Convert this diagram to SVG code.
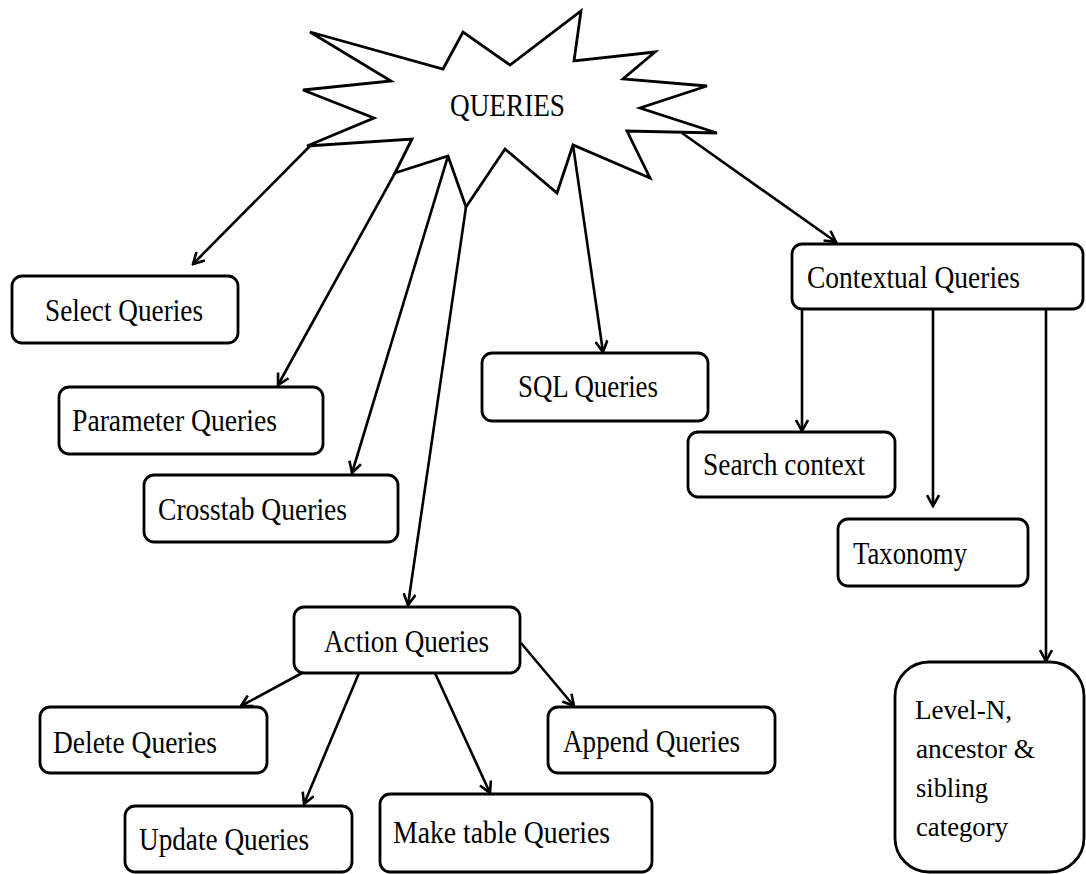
<svg xmlns="http://www.w3.org/2000/svg" width="1086" height="874" viewBox="0 0 1086 874">
  <style>
    .box { fill: #ffffff; stroke: #000000; stroke-width: 2.8; }
    .lbl { font-family: "Liberation Serif", "Times New Roman", serif; font-size: 32px; fill: #000000; }
    .small { font-size: 28px; }
    .edge { stroke: #000000; stroke-width: 2.6; fill: none; marker-end: url(#arrow); }
  </style>
  <defs>
    <marker id="arrow" markerUnits="userSpaceOnUse" viewBox="0 0 14 14" markerWidth="14" markerHeight="14" refX="12" refY="7" orient="auto">
      <path d="M1,1 L12,7 L1,13" fill="none" stroke="#000000" stroke-width="2.6"/>
    </marker>
  </defs>
  <rect width="1086" height="874" fill="#ffffff"/>

  <!-- connectors -->
  <g id="connectors">
    <line class="edge" x1="310" y1="146" x2="193" y2="264"/>
    <line class="edge" x1="395" y1="173" x2="278" y2="385"/>
    <line class="edge" x1="448" y1="156" x2="352" y2="473"/>
    <line class="edge" x1="466" y1="207" x2="408" y2="605"/>
    <line class="edge" x1="573" y1="145" x2="603" y2="352"/>
    <line class="edge" x1="682" y1="133" x2="836" y2="242"/>
    <line class="edge" x1="302" y1="673" x2="241" y2="706"/>
    <line class="edge" x1="359" y1="673" x2="304" y2="804"/>
    <line class="edge" x1="435" y1="673" x2="490" y2="793"/>
    <line class="edge" x1="521" y1="643" x2="574" y2="706"/>
    <line class="edge" x1="802" y1="309" x2="802" y2="431"/>
    <line class="edge" x1="933" y1="309" x2="933" y2="506"/>
    <line class="edge" x1="1046" y1="309" x2="1046" y2="661"/>
  </g>

  <!-- central starburst -->
  <g id="queries">
    <polygon class="box" stroke-linejoin="miter" points="310,32 443,69 463,32 510,65 581,11 574,61 655,52 623,79 707,86 640,108 717,133 627,131 650,178 573,145 557,193 505,149 466,207 448,156 395,173 412,139 307,146 374,118 303,90 391,81"/>
    <text class="lbl" x="450" y="116" font-size="28" textLength="115" lengthAdjust="spacingAndGlyphs">QUERIES</text>
  </g>

  <g id="select">
    <rect class="box" x="12" y="276" width="226" height="67" rx="10"/>
    <text class="lbl" x="45" y="321" textLength="158" lengthAdjust="spacingAndGlyphs">Select Queries</text>
  </g>

  <g id="parameter">
    <rect class="box" x="59" y="387" width="264" height="67" rx="10"/>
    <text class="lbl" x="72" y="431" textLength="205" lengthAdjust="spacingAndGlyphs">Parameter Queries</text>
  </g>

  <g id="crosstab">
    <rect class="box" x="144" y="475" width="254" height="67" rx="10"/>
    <text class="lbl" x="158" y="520" textLength="189" lengthAdjust="spacingAndGlyphs">Crosstab Queries</text>
  </g>

  <g id="sql">
    <rect class="box" x="482" y="353" width="226" height="68" rx="10"/>
    <text class="lbl" x="518" y="397" textLength="140" lengthAdjust="spacingAndGlyphs">SQL Queries</text>
  </g>

  <g id="contextual">
    <rect class="box" x="792" y="244" width="291" height="65" rx="10"/>
    <text class="lbl" x="807" y="288" textLength="213" lengthAdjust="spacingAndGlyphs">Contextual Queries</text>
  </g>

  <g id="search">
    <rect class="box" x="688" y="432" width="207" height="65" rx="10"/>
    <text class="lbl" x="703" y="475" textLength="162" lengthAdjust="spacingAndGlyphs">Search context</text>
  </g>

  <g id="taxonomy">
    <rect class="box" x="838" y="519" width="190" height="67" rx="10"/>
    <text class="lbl" x="853" y="564" textLength="114" lengthAdjust="spacingAndGlyphs">Taxonomy</text>
  </g>

  <g id="level">
    <rect class="box" x="895" y="662" width="189" height="210" rx="34"/>
    <text class="lbl small" x="915" y="719" textLength="97" lengthAdjust="spacingAndGlyphs">Level-N,</text>
    <text class="lbl small" x="916" y="758" textLength="119" lengthAdjust="spacingAndGlyphs">ancestor &amp;</text>
    <text class="lbl small" x="916" y="797" textLength="72" lengthAdjust="spacingAndGlyphs">sibling</text>
    <text class="lbl small" x="916" y="836" textLength="92" lengthAdjust="spacingAndGlyphs">category</text>
  </g>

  <g id="action">
    <rect class="box" x="294" y="607" width="226" height="66" rx="10"/>
    <text class="lbl" x="324" y="652" textLength="165" lengthAdjust="spacingAndGlyphs">Action Queries</text>
  </g>

  <g id="delete">
    <rect class="box" x="40" y="707" width="227" height="66" rx="10"/>
    <text class="lbl" x="53" y="753" textLength="164" lengthAdjust="spacingAndGlyphs">Delete Queries</text>
  </g>

  <g id="append">
    <rect class="box" x="548" y="707" width="227" height="66" rx="10"/>
    <text class="lbl" x="563" y="752" textLength="177" lengthAdjust="spacingAndGlyphs">Append Queries</text>
  </g>

  <g id="update">
    <rect class="box" x="125" y="806" width="227" height="66" rx="10"/>
    <text class="lbl" x="139" y="850" textLength="170" lengthAdjust="spacingAndGlyphs">Update Queries</text>
  </g>

  <g id="maketable">
    <rect class="box" x="380" y="794" width="272" height="78" rx="10"/>
    <text class="lbl" x="393" y="843" textLength="217" lengthAdjust="spacingAndGlyphs">Make table Queries</text>
  </g>
</svg>
